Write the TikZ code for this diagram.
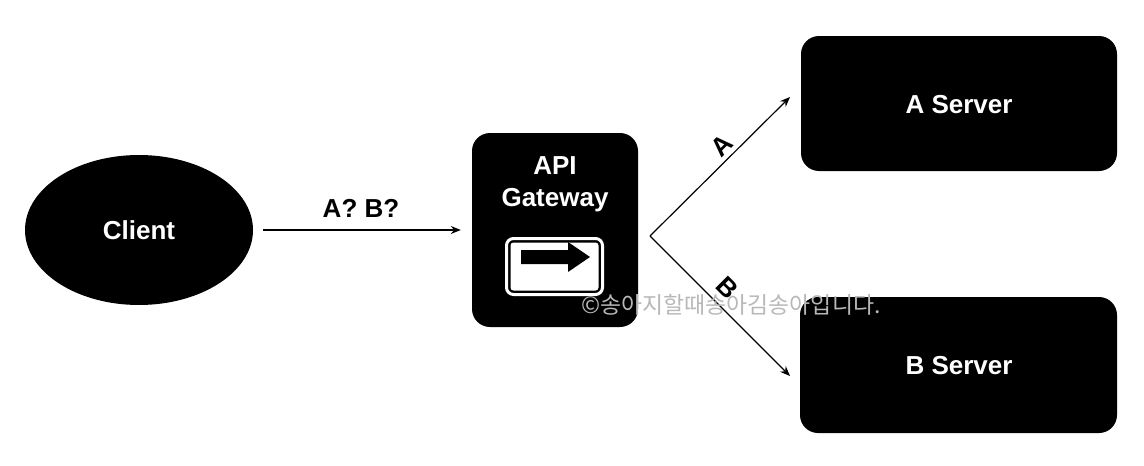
\documentclass[tikz,border=0pt]{standalone}
\usepackage{fontspec}
\setmainfont{Liberation Sans}
\newfontfamily\krfont{Noto Sans CJK KR}
\usetikzlibrary{arrows.meta,shapes.geometric}
\tikzset{
  boxdark/.style={fill=black,draw=none,rounded corners=18pt,inner sep=0pt,minimum width=#1},
  lab/.style={font=\fontsize{26}{32}\selectfont\bfseries,inner sep=0pt,align=center},
  wlab/.style={lab,text=white},
  conn/.style={line width=1.2pt,-{Stealth[length=10pt,width=8pt]}},
}
\begin{document}
\begin{tikzpicture}[x=1pt,y=-1pt]
\useasboundingbox (0,0) rectangle (1144,466);
\node[ellipse,fill=black,minimum width=228pt,minimum height=150pt,inner sep=0pt] (client) at (139,230) {};
\node[wlab] (clientlab) at (139,230.5) {Client};
\node[boxdark=166pt,minimum height=194pt] (gw) at (555,230) {};
\node[wlab,anchor=center] (gwlab) at (555,184) {API\\Gateway};
\node[boxdark=316pt,minimum height=135pt] (aserver) at (959,103.5) {};
\node[wlab] (alab) at (959,105) {A Server};
\node[boxdark=317pt,minimum height=136pt] (bserver) at (958.5,365) {};
\node[wlab] (blab) at (959,366) {B Server};
% sign
\filldraw[fill=black,draw=white,line width=3pt,rounded corners=7pt] (506.5,238.5) rectangle (602.5,294.5);
\fill[white,rounded corners=3pt] (510.5,242.5) rectangle (598.5,290.5);
\fill[black] (521,250) -- (568,250) -- (568,242) -- (590,257) -- (568,272) -- (568,264) -- (521,264) -- cycle;
% connectors
\coordinate (fork) at (650,236);
\coordinate (atip) at (790,97);
\coordinate (btip) at (790,376);
\draw[conn,shorten <=10pt,shorten >=11pt] (client.east) -- (gw.west);
\draw[conn] (fork) -- (atip);
\draw[conn] (fork) -- (btip);
% labels
\node[lab] (q) at (361,208.5) {A? B?};
\node[lab,rotate=45] (la) at (722,146) {A};
\node[lab,rotate=-45] (lb) at (727,288) {B};
% watermark
\node[inner sep=0pt,text=black!28,font=\krfont\fontsize{22.9}{26}\selectfont,anchor=west] (wm) at (581,305) {©송아지할때송아김송아입니다.};
\end{tikzpicture}
\end{document}
